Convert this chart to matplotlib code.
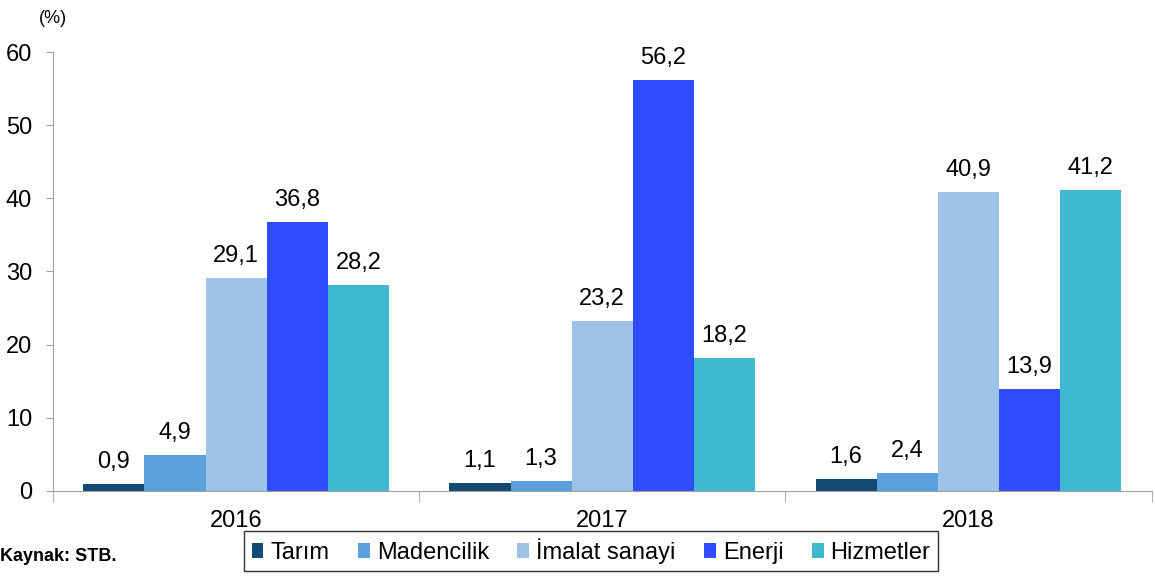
import matplotlib
matplotlib.use("Agg")
import matplotlib.pyplot as plt
import numpy as np

years = ["2016", "2017", "2018"]
series = ["Tarım", "Madencilik", "İmalat sanayi", "Enerji", "Hizmetler"]
values = {
    "Tarım": [0.9, 1.1, 1.6],
    "Madencilik": [4.9, 1.3, 2.4],
    "İmalat sanayi": [29.1, 23.2, 40.9],
    "Enerji": [36.8, 56.2, 13.9],
    "Hizmetler": [28.2, 18.2, 41.2],
}
colors = ["#124A73", "#5BA1DC", "#9DC3E6", "#2F4DFF", "#40B9D0"]
yticks = [0, 10, 20, 30, 40, 50, 60]

plt.rcParams['font.family'] = ['Liberation Sans', 'DejaVu Sans']

fig = plt.figure(figsize=(11.55, 5.76), dpi=100)
ax = fig.add_axes([0.0459, 0.1476, 0.9511, 0.7621])

x = np.arange(len(years))
w = 0.167
for i, s in enumerate(series):
    pos = x + (i - 2) * w
    bars = ax.bar(pos, values[s], width=w, color=colors[i], label=s, zorder=2)
    for b, v in zip(bars, values[s]):
        ax.text(b.get_x() + b.get_width() / 2, v + 1.5, f"{v:.1f}".replace('.', ','),
                ha='center', va='bottom', fontsize=17, color='#000000')

ax.set_ylim(0, 60)
ax.set_xlim(-0.5, 2.5)
ax.set_yticks(yticks)
ax.set_yticklabels([str(t) for t in yticks], fontsize=17)
ax.set_xticks(x)
ax.set_xticklabels(years, fontsize=17)
ax.tick_params(axis='x', which='major', length=0, pad=14)
ax.set_xticks([-0.5, 0.5, 1.5, 2.5], minor=True)
ax.tick_params(axis='x', which='minor', length=8, color='#A0A0A0', direction='out')
ax.tick_params(axis='y', length=5, color='#A0A0A0', pad=10)
for sp in ['top', 'right']:
    ax.spines[sp].set_visible(False)
ax.spines['left'].set_color('#A0A0A0')
ax.spines['bottom'].set_color('#A0A0A0')

fig.text(0.0459, 0.968, "(%)", fontsize=13, ha='center', va='center')
fig.text(0.0, 0.033, "Kaynak: STB.", fontsize=13, fontweight='bold', ha='left', va='center')

leg = fig.legend(loc='center', bbox_to_anchor=(0.5117, 0.0434), ncol=5, fontsize=17,
                 frameon=True, fancybox=False, edgecolor='black', handlelength=0.5,
                 handleheight=0.6, handletextpad=0.3, columnspacing=1.2, borderpad=0.3)
leg.get_frame().set_linewidth(1.0)

fig.savefig("out.png", dpi=100)
